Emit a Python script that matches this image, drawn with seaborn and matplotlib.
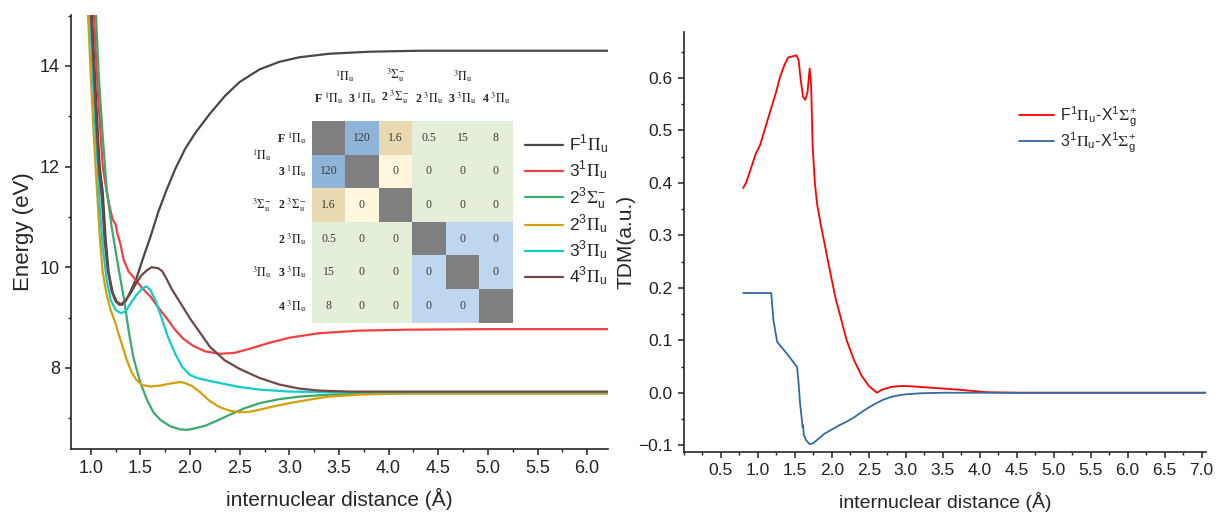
import numpy as np
import pandas as pd
import matplotlib
matplotlib.use("Agg")
import matplotlib.pyplot as plt
from matplotlib.colors import ListedColormap
from matplotlib.ticker import MultipleLocator
import seaborn as sns

# ---------------- potential energy curves (r in Å, E in eV) ----------------
r_F1Pi = [1.01, 1.04, 1.07, 1.09, 1.12, 1.15, 1.18, 1.22, 1.26, 1.31, 1.35, 1.40, 1.46, 1.53,
          1.60, 1.68, 1.76, 1.85, 1.95, 2.05, 2.20, 2.35, 2.50, 2.70, 2.90, 3.10, 3.40, 3.80,
          4.30, 5.00, 6.30]
E_F1Pi = [15.1, 13.9, 12.7, 12.0, 11.5, 10.55, 9.9, 9.5, 9.32, 9.25, 9.32, 9.52, 9.78, 10.2,
          10.6, 11.1, 11.52, 11.95, 12.35, 12.66, 13.05, 13.4, 13.68, 13.93, 14.08, 14.17, 14.24,
          14.28, 14.30, 14.30, 14.30]

r_31Pi = [1.03, 1.07, 1.12, 1.16, 1.19, 1.22, 1.25, 1.27, 1.30, 1.33, 1.38, 1.45, 1.52, 1.60,
          1.68, 1.76, 1.84, 1.93, 2.03, 2.15, 2.30, 2.45, 2.60, 2.80, 3.00, 3.30, 3.70, 4.20,
          5.00, 6.30]
E_31Pi = [15.1, 13.5, 12.0, 11.5, 11.2, 10.95, 10.85, 10.65, 10.45, 10.15, 9.92, 9.75, 9.58,
          9.42, 9.2, 9.0, 8.78, 8.58, 8.44, 8.33, 8.28, 8.3, 8.38, 8.5, 8.6, 8.69, 8.74, 8.76,
          8.77, 8.77]

r_23Sig = [1.05, 1.08, 1.12, 1.16, 1.21, 1.26, 1.30, 1.34, 1.38, 1.43, 1.50, 1.57, 1.63, 1.70,
           1.80, 1.90, 1.97, 2.05, 2.15, 2.28, 2.40, 2.55, 2.70, 2.90, 3.10, 3.40, 3.80, 4.30,
           6.30]
E_23Sig = [15.1, 13.8, 12.6, 11.55, 10.8, 10.2, 9.75, 9.3, 8.75, 8.2, 7.7, 7.35, 7.12, 6.97,
           6.84, 6.78, 6.77, 6.8, 6.85, 6.96, 7.07, 7.2, 7.3, 7.38, 7.43, 7.47, 7.49, 7.5, 7.5]

r_23Pi = [0.97, 1.00, 1.03, 1.06, 1.09, 1.12, 1.16, 1.20, 1.25, 1.30, 1.36, 1.41, 1.46, 1.52,
          1.60, 1.70, 1.80, 1.90, 1.95, 2.02, 2.10, 2.20, 2.30, 2.40, 2.50, 2.60, 2.70, 2.85,
          3.00, 3.20, 3.40, 3.70, 4.10, 6.30]
E_23Pi = [15.1, 13.8, 12.6, 11.6, 10.6, 9.9, 9.45, 9.15, 8.88, 8.55, 8.17, 7.92, 7.76, 7.66,
          7.63, 7.65, 7.69, 7.72, 7.7, 7.64, 7.52, 7.34, 7.22, 7.15, 7.12, 7.13, 7.17, 7.24,
          7.3, 7.37, 7.43, 7.47, 7.49, 7.49]

r_33Pi = [0.99, 1.02, 1.05, 1.07, 1.09, 1.12, 1.16, 1.20, 1.25, 1.30, 1.35, 1.40, 1.46, 1.52,
          1.56, 1.60, 1.66, 1.72, 1.78, 1.85, 1.92, 2.00, 2.07, 2.20, 2.35, 2.50, 2.70, 3.00,
          3.40, 4.00, 6.30]
E_33Pi = [15.1, 13.8, 12.6, 12.0, 11.2, 10.4, 9.75, 9.35, 9.15, 9.09, 9.12, 9.28, 9.45, 9.58,
          9.62, 9.55, 9.3, 8.95, 8.6, 8.28, 8.02, 7.86, 7.8, 7.74, 7.68, 7.62, 7.57, 7.53, 7.52,
          7.52, 7.52]

r_43Pi = [1.00, 1.03, 1.06, 1.08, 1.11, 1.14, 1.17, 1.21, 1.25, 1.29, 1.34, 1.40, 1.46, 1.51,
          1.56, 1.61, 1.68, 1.72, 1.76, 1.82, 1.90, 2.00, 2.10, 2.20, 2.35, 2.50, 2.70, 2.90,
          3.10, 3.30, 3.60, 4.00, 6.30]
E_43Pi = [15.1, 13.9, 12.7, 12.0, 11.4, 10.5, 9.95, 9.52, 9.32, 9.25, 9.32, 9.48, 9.69, 9.84,
          9.93, 10.0, 9.98, 9.92, 9.78, 9.55, 9.3, 8.98, 8.7, 8.42, 8.15, 7.98, 7.8, 7.67, 7.59,
          7.55, 7.53, 7.53, 7.53]

state_labels = [r'F$^{\mathregular{1}}\Pi_{\mathregular{u}}$',
                r'3$^{\mathregular{1}}\Pi_{\mathregular{u}}$',
                r'2$^{\mathregular{3}}\Sigma_{\mathregular{u}}^{\mathregular{-}}$',
                r'2$^{\mathregular{3}}\Pi_{\mathregular{u}}$',
                r'3$^{\mathregular{3}}\Pi_{\mathregular{u}}$',
                r'4$^{\mathregular{3}}\Pi_{\mathregular{u}}$']
state_colors = ['#484848', '#f04040', '#3aaa6c', '#d4a00a', '#12cccc', '#704848']

# ---------------- coupling matrix (inset) ----------------
matrix_states = [r'F $^{1}\Pi_{\mathrm{u}}$', r'3 $^{1}\Pi_{\mathrm{u}}$',
                 r'2 $^{3}\Sigma_{\mathrm{u}}^{-}$', r'2 $^{3}\Pi_{\mathrm{u}}$',
                 r'3 $^{3}\Pi_{\mathrm{u}}$', r'4 $^{3}\Pi_{\mathrm{u}}$']
group_labels = [r'$^{1}\Pi_{\mathrm{u}}$', r'$^{3}\Sigma_{\mathrm{u}}^{-}$', r'$^{3}\Pi_{\mathrm{u}}$']
group_centers = [1.0, 2.5, 4.5]
coupling = [[np.nan, 120, 1.6, 0.5, 15, 8],
            [120, np.nan, 0, 0, 0, 0],
            [1.6, 0, np.nan, 0, 0, 0],
            [0.5, 0, 0, np.nan, 0, 0],
            [15, 0, 0, 0, np.nan, 0],
            [8, 0, 0, 0, 0, np.nan]]
cell_group = [[0, 1, 2, 4, 4, 4],
              [1, 0, 3, 4, 4, 4],
              [2, 3, 0, 4, 4, 4],
              [4, 4, 4, 0, 5, 5],
              [4, 4, 4, 5, 0, 5],
              [4, 4, 4, 5, 5, 0]]
cell_colors = ['#7f7f7f', '#8fb4d9', '#e9d9b0', '#fff6de', '#e3efd9', '#bed7ee']

# ---------------- transition dipole moments ----------------
r_tdm_F = [0.80, 0.84, 0.90, 0.97, 1.03, 1.10, 1.17, 1.24, 1.30, 1.36, 1.41, 1.47, 1.52, 1.55,
           1.58, 1.61, 1.64, 1.67, 1.70, 1.72, 1.74, 1.77, 1.80, 1.85, 1.90, 1.98, 2.05, 2.12,
           2.20, 2.30, 2.40, 2.50, 2.61, 2.68, 2.80, 2.95, 3.10, 3.40, 3.70, 4.10, 4.50, 5.00,
           6.00, 7.06]
tdm_F = [0.390, 0.400, 0.425, 0.455, 0.472, 0.505, 0.538, 0.570, 0.602, 0.625, 0.639, 0.641,
         0.643, 0.634, 0.595, 0.564, 0.558, 0.572, 0.618, 0.585, 0.470, 0.400, 0.360, 0.320,
         0.285, 0.228, 0.180, 0.143, 0.100, 0.062, 0.033, 0.013, 0.000, 0.006, 0.011, 0.013,
         0.012, 0.009, 0.006, 0.001, 0.0, 0.0, 0.0, 0.0]
r_tdm_3 = [0.80, 1.18, 1.21, 1.26, 1.40, 1.53, 1.55, 1.57, 1.59, 1.605, 1.612, 1.62, 1.65,
           1.70, 1.75, 1.80, 1.90, 2.00, 2.10, 2.20, 2.30, 2.40, 2.50, 2.60, 2.70, 2.80, 2.90,
           3.00, 3.20, 3.50, 4.00, 5.00, 6.00, 7.06]
tdm_3 = [0.190, 0.190, 0.138, 0.097, 0.073, 0.049, 0.018, -0.020, -0.046, -0.066, -0.062,
         -0.080, -0.090, -0.098, -0.096, -0.090, -0.078, -0.070, -0.062, -0.055, -0.047, -0.037,
         -0.028, -0.020, -0.013, -0.008, -0.005, -0.003, -0.001, 0.0, 0.0, 0.0, 0.0, 0.0]
tdm_labels = [r'F$^{\mathregular{1}}\Pi_{\mathregular{u}}$-X$^{\mathregular{1}}\Sigma_{\mathregular{g}}^{\mathregular{+}}$',
              r'3$^{\mathregular{1}}\Pi_{\mathregular{u}}$-X$^{\mathregular{1}}\Sigma_{\mathregular{g}}^{\mathregular{+}}$']
tdm_colors = ['#ff0000', '#336aa3']

# ---------------- style ----------------
sns.set_theme(style='ticks')
plt.rcParams['font.family'] = ['Liberation Sans', 'DejaVu Sans']
plt.rcParams['mathtext.fontset'] = 'stix'
plt.rcParams['axes.linewidth'] = 1.2
for ax_name in ('xtick', 'ytick'):
    plt.rcParams[f'{ax_name}.direction'] = 'out'
    plt.rcParams[f'{ax_name}.major.size'] = 4.5
    plt.rcParams[f'{ax_name}.minor.size'] = 2.5
    plt.rcParams[f'{ax_name}.major.width'] = 1.1
    plt.rcParams[f'{ax_name}.minor.width'] = 1.0
    plt.rcParams[f'{ax_name}.color'] = '#222222'
    plt.rcParams[f'{ax_name}.labelsize'] = 12.5

fig = plt.figure(figsize=(12.17, 5.19), dpi=100)

# ---------------- left: potential energy curves ----------------
ax1 = fig.add_axes([0.0583, 0.1349, 0.4413, 0.8362])
pec = pd.concat([
    pd.DataFrame({'r': r, 'E': E, 'state': lab})
    for r, E, lab in zip([r_F1Pi, r_31Pi, r_23Sig, r_23Pi, r_33Pi, r_43Pi],
                         [E_F1Pi, E_31Pi, E_23Sig, E_23Pi, E_33Pi, E_43Pi],
                         state_labels)
], ignore_index=True)
sns.lineplot(data=pec, x='r', y='E', hue='state', hue_order=state_labels,
             palette=state_colors, sort=False, estimator=None, lw=1.6, ax=ax1)
h, l = ax1.get_legend_handles_labels()
ax1.get_legend().remove()
ax1.legend(h, l, loc='upper left', bbox_to_anchor=(525 / 1217, 1 - 134 / 519),
           bbox_transform=fig.transFigure, frameon=False, fontsize=12.5,
           borderpad=0, borderaxespad=0, handlelength=2.2, handletextpad=0.35,
           labelspacing=0.2)
ax1.set_xlim(0.8, 6.21)
ax1.set_ylim(6.39, 15.01)
ax1.xaxis.set_major_locator(MultipleLocator(0.5))
ax1.xaxis.set_minor_locator(MultipleLocator(0.25))
ax1.yaxis.set_major_locator(MultipleLocator(2))
ax1.yaxis.set_minor_locator(MultipleLocator(1))
ax1.tick_params(labelsize=13)
ax1.set_xlabel('internuclear distance (Å)', fontsize=15, labelpad=8)
ax1.set_ylabel('Energy (eV)', fontsize=16, labelpad=4)
sns.despine(ax=ax1)

# ---------------- inset: coupling matrix ----------------
ins = fig.add_axes([311.7 / 1217, 1 - 322.7 / 519, 201 / 1217, 201.7 / 519])
annot = np.array([['' if np.isnan(v) else f'{v:g}' for v in row] for row in coupling])
sns.heatmap(np.array(cell_group), cmap=ListedColormap(cell_colors), vmin=-0.5, vmax=5.5,
            annot=annot, fmt='', cbar=False, xticklabels=False, yticklabels=False,
            annot_kws=dict(fontsize=8.5, family='Liberation Serif', color='#3a3a3a'), ax=ins)
serif = dict(family='Liberation Serif', fontsize=8.5, fontweight='bold', color='#222222')
for i, lab in enumerate(matrix_states):
    ins.text(i + 0.5, -0.45, lab, ha='center', va='bottom', clip_on=False, **serif)
    ins.text(-0.15, i + 0.5, lab, ha='right', va='center', clip_on=False, **serif)
for c, lab in zip(group_centers, group_labels):
    ins.text(c, -1.1, lab, ha='center', va='bottom', clip_on=False, **serif)
    ins.text(-1.5, c, lab, ha='center', va='center', clip_on=False, **serif)

# ---------------- right: transition dipole moments ----------------
ax2 = fig.add_axes([0.562, 0.129, 0.429, 0.809])
tdm = pd.concat([
    pd.DataFrame({'r': r, 'TDM': d, 'pair': lab})
    for r, d, lab in zip([r_tdm_F, r_tdm_3], [tdm_F, tdm_3], tdm_labels)
], ignore_index=True)
sns.lineplot(data=tdm, x='r', y='TDM', hue='pair', hue_order=tdm_labels,
             palette=tdm_colors, sort=False, estimator=None, lw=1.3, ax=ax2)
h, l = ax2.get_legend_handles_labels()
ax2.get_legend().remove()
ax2.legend(h, l, loc='upper left', bbox_to_anchor=(1019 / 1217, 1 - 105 / 519),
           bbox_transform=fig.transFigure, frameon=False, fontsize=11.5,
           borderpad=0, borderaxespad=0, handlelength=2.2, handletextpad=0.35,
           labelspacing=0.12)
ax2.set_xlim(0.0, 7.06)
ax2.set_ylim(-0.113, 0.687)
ax2.xaxis.set_major_locator(MultipleLocator(0.5))
ax2.xaxis.set_minor_locator(MultipleLocator(0.25))
ax2.yaxis.set_major_locator(MultipleLocator(0.1))
ax2.yaxis.set_minor_locator(MultipleLocator(0.05))
ax2.set_xticks(np.arange(0.5, 7.01, 0.5))
ax2.set_xlabel('internuclear distance (Å)', fontsize=14, labelpad=10)
ax2.set_ylabel('TDM(a.u.)', fontsize=15, labelpad=2)
sns.despine(ax=ax2)

fig.savefig('out.png', dpi=100)
